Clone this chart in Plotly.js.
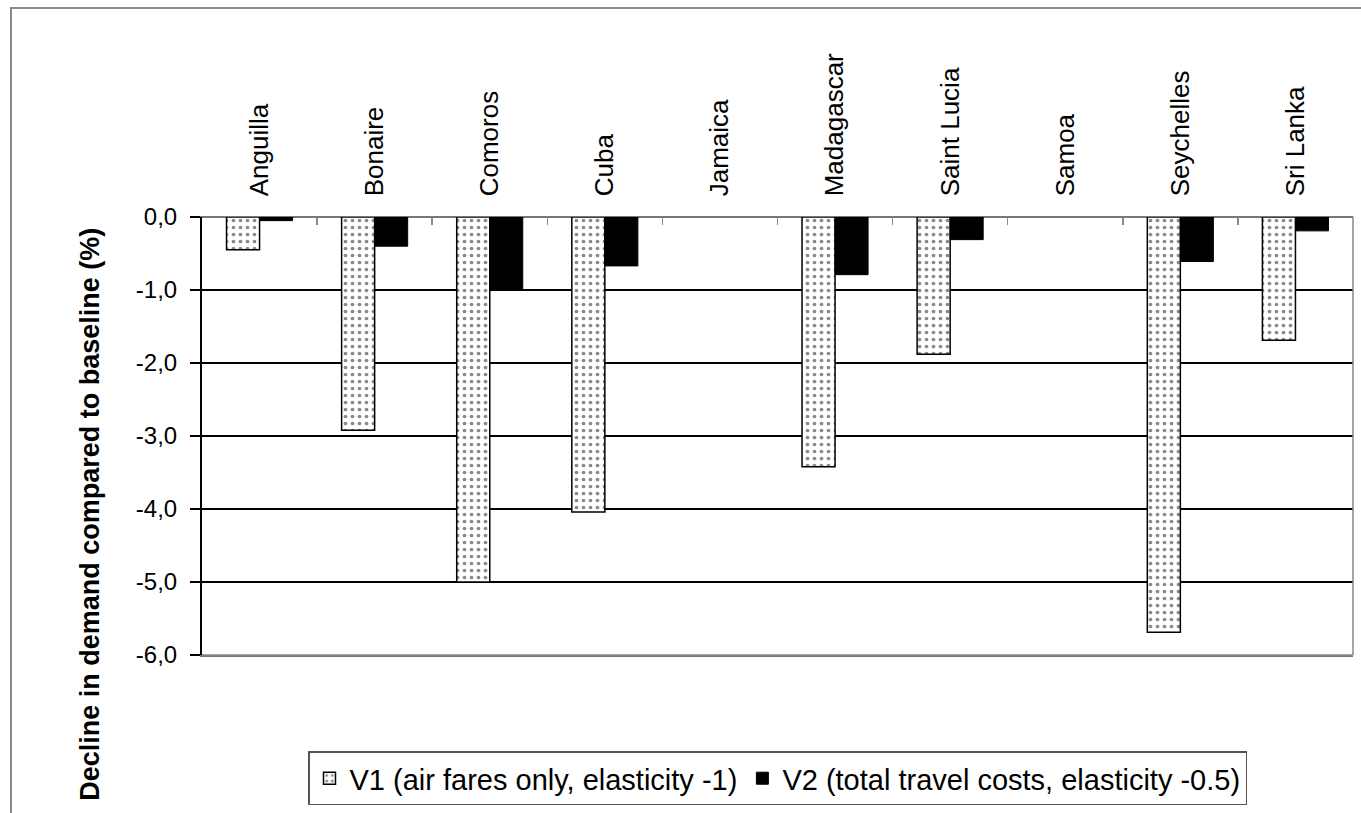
<!DOCTYPE html>
<html>
<head>
<meta charset="utf-8">
<script src="https://cdn.plot.ly/plotly-3.0.1.min.js"></script>
<style>
  html, body { margin: 0; padding: 0; background: #fff; }
  #frame { position: absolute; left: 10px; top: 7px; width: 1400px; height: 900px; border: 2px solid #8a8a8a; box-sizing: border-box; }
  #chart { position: absolute; left: 0; top: 0; width: 1361px; height: 813px; }
</style>
</head>
<body>
<div id="frame"></div>
<div id="chart"></div>
<script>
const categories = ['Anguilla','Bonaire','Comoros','Cuba','Jamaica','Madagascar','Saint Lucia','Samoa','Seychelles','Sri Lanka'];
const v1 = [-0.45, -2.92, -5.0, -4.04, null, -3.42, -1.88, null, -5.69, -1.69];
const v2 = [-0.05, -0.40, -1.0, -0.67, null, -0.79, -0.31, null, -0.61, -0.19];
const yTickVals = [0, -1, -2, -3, -4, -5, -6];
const yTickText = ['0,0', '-1,0', '-2,0', '-3,0', '-4,0', '-5,0', '-6,0'];
const v1Name = 'V1 (air fares only, elasticity -1)';
const v2Name = 'V2 (total travel costs, elasticity -0.5)';
const yTitle = 'Decline in demand compared to baseline (%)';

const FONT = 'Arial, "Liberation Sans", sans-serif';

const traces = [
  {
    type: 'bar', x: categories, y: v1, name: v1Name,
    marker: {
      color: '#ffffff',
      line: { color: '#000', width: 1.5 },
      pattern: { shape: '.', size: 7, solidity: 0.22, fgcolor: '#8a8a8a', bgcolor: '#fff' }
    }
  },
  {
    type: 'bar', x: categories, y: v2, name: v2Name,
    marker: { color: '#000', line: { color: '#000', width: 1 } }
  }
];

const layout = {
  width: 1361, height: 813,
  margin: { l: 202, r: 8, t: 217, b: 156 },
  paper_bgcolor: 'rgba(0,0,0,0)',
  plot_bgcolor: '#fff',
  barmode: 'group', bargap: 0.426, bargroupgap: 0,
  font: { family: FONT, color: '#000', size: 24 },
  showlegend: true,
  legend: {
    orientation: 'h', x: 0.5, xanchor: 'center', y: -0.22, yanchor: 'top',
    bordercolor: '#555', borderwidth: 1.5, bgcolor: '#fff',
    font: { family: FONT, size: 29, color: '#000' },
    itemwidth: 30, tracegroupgap: 0, itemclick: false
  },
  xaxis: {
    side: 'top', type: 'category',
    tickangle: -90, tickfont: { family: FONT, size: 26 },
    ticks: 'inside', ticklen: 8, tickcolor: '#888', tickwidth: 1.5, tickson: 'boundaries',
    ticklabelstandoff: 14,
    showline: true, linecolor: '#777', linewidth: 1.5, mirror: true,
    showgrid: false, zeroline: false, fixedrange: true
  },
  yaxis: {
    range: [-6, 0], tickvals: yTickVals, ticktext: yTickText,
    tickfont: { family: FONT, size: 24 },
    ticks: 'outside', ticklen: 10, tickcolor: '#000', tickwidth: 1.5,
    ticklabelstandoff: 8,
    showline: true, linecolor: '#000', linewidth: 2, mirror: false,
    showgrid: true, gridcolor: '#000', gridwidth: 1.5,
    zeroline: true, zerolinecolor: '#777', zerolinewidth: 1.5, fixedrange: true
  },
  shapes: [
    { type: 'line', xref: 'paper', yref: 'paper', x0: 1, x1: 1, y0: 0, y1: 1, line: { color: '#888', width: 1.5 } },
    { type: 'line', xref: 'paper', yref: 'paper', x0: 0, x1: 1, y0: 0, y1: 0, line: { color: '#888', width: 1.5 } }
  ],
  annotations: [
    {
      text: yTitle, textangle: -90, showarrow: false,
      xref: 'paper', yref: 'paper', x: -0.0973, y: 0.32, xanchor: 'center', yanchor: 'middle',
      font: { family: FONT, size: 27, color: '#000', weight: 'bold' }
    }
  ]
};

Plotly.newPlot('chart', traces, layout, { displayModeBar: false, staticPlot: true });
</script>
</body>
</html>
